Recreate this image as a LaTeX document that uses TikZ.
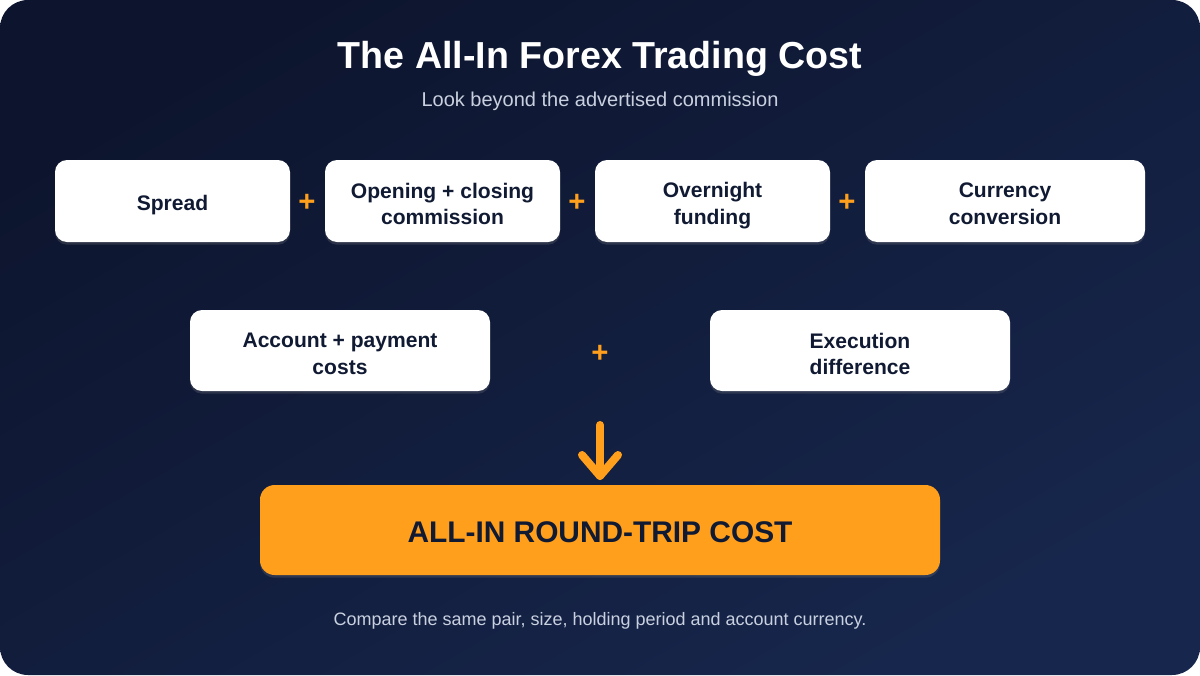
\documentclass[tikz,border=0pt]{standalone}
\usepackage{fontspec}
\setmainfont{Liberation Sans}
\usetikzlibrary{shadows}
\definecolor{bgA}{HTML}{0D152E}
\definecolor{bgB}{HTML}{17264C}
\definecolor{ink}{HTML}{111A33}
\definecolor{accent}{HTML}{FF9F1C}
\definecolor{subtxt}{HTML}{C9D1E0}
\tikzset{
  card/.style={fill=white, rounded corners=9pt, draw=none, drop shadow={opacity=0.25, shadow xshift=0pt, shadow yshift=-2pt}},
  cardtxt/.style={text=ink, font=\bfseries\fontsize{15.8}{20}\selectfont, align=center},
  plus/.style={text=accent, font=\bfseries\fontsize{22}{22}\selectfont},
}
\begin{document}
\begin{tikzpicture}[x=0.75pt,y=-0.75pt]
\useasboundingbox (0,0) rectangle (1200,675);
\fill[white] (0,0) rectangle (1200,675);
\shade[rounded corners=21pt, top color=bgA, bottom color=bgB, shading angle=30] (0,0) rectangle (1200,675);
% title
\node[text=white, font=\bfseries\fontsize{28.2}{32}\selectfont] (title) at (600,58.5) {The All-In Forex Trading Cost};
\node[text=subtxt, font=\fontsize{15}{18}\selectfont] (sub) at (600,101.5) {Look beyond the advertised commission};
% row 1 cards
\path[card] (55,160) rectangle (290,242);
\node[cardtxt] (spread) at (172.5,205) {Spread};
\path[card] (325,160) rectangle (560,242);
\node[cardtxt] (open) at (442.5,204) {Opening + closing\\commission};
\path[card] (595,160) rectangle (830,242);
\node[cardtxt] (overnight) at (712.5,205.5) {Overnight\\funding};
\path[card] (865,160) rectangle (1145,242);
\node[cardtxt] (currency) at (1005,204) {Currency\\conversion};
\node[plus] (p1) at (307,203) {+};
\node[plus] (p2) at (577,203) {+};
\node[plus] (p3) at (847,203) {+};
% row 2
\path[card] (190,310) rectangle (490,391);
\node[cardtxt] (account) at (340,354) {Account + payment\\costs};
\path[card] (710,310) rectangle (1010,391);
\node[cardtxt] (execution) at (860,354) {Execution\\difference};
\node[plus] (p4) at (600,354) {+};
% arrow
\coordinate (atop) at (600,425);
\coordinate (atip) at (600,476);
\draw[accent, line width=6pt, line cap=round, line join=round] (atop) -- (atip);
\draw[accent, line width=6pt, line cap=round, line join=round] (582,455) -- (atip) -- (618,455);
% result
\path[fill=accent, rounded corners=11pt, drop shadow={opacity=0.25, shadow xshift=0pt, shadow yshift=-2pt}] (260,485) rectangle (940,575);
\node[text=ink, font=\bfseries\fontsize{22.4}{26}\selectfont] (result) at (600,532) {ALL-IN ROUND-TRIP COST};
\node[text=subtxt, font=\fontsize{13.5}{16}\selectfont] (foot) at (600,620.5) {Compare the same pair, size, holding period and account currency.};
\end{tikzpicture}
\end{document}
